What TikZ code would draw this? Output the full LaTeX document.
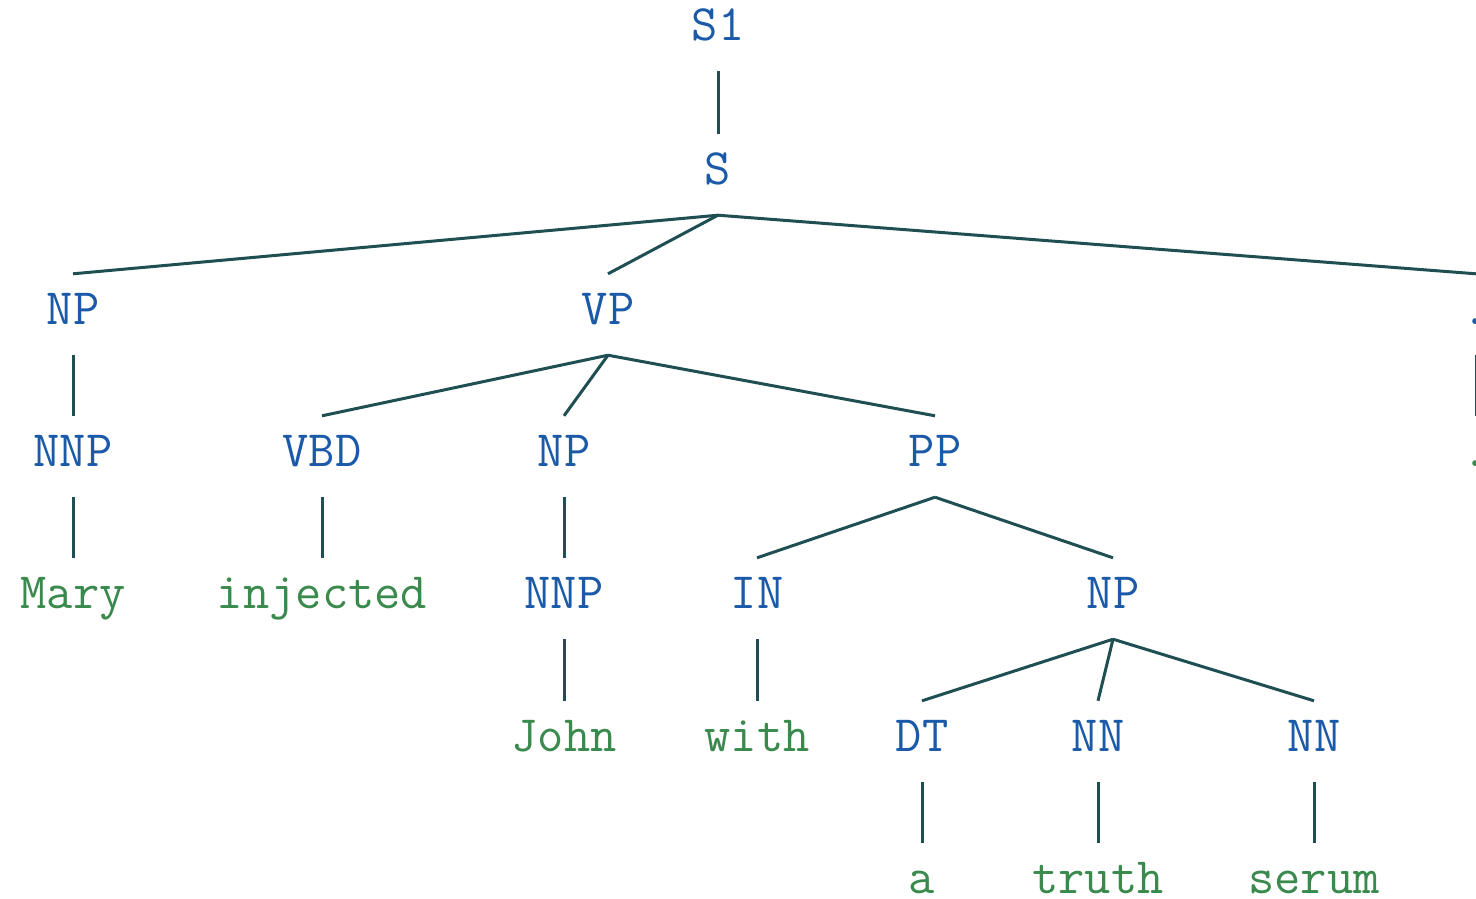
\documentclass[tikz,border=0pt]{standalone}
\usepackage{fontspec}
\definecolor{tagblue}{HTML}{1A5AA8}
\definecolor{wordgreen}{HTML}{3A8A4E}
\definecolor{edgeteal}{HTML}{1F4F52}
\begin{document}
\begin{tikzpicture}[x=1pt,y=-1pt,
  lbl/.style={anchor=base, font=\ttfamily\fontsize{51}{56}\selectfont,
    text height=28pt, text depth=9pt, inner ysep=22pt, inner xsep=0pt},
  tag/.style={lbl, text=tagblue},
  word/.style={lbl, text=wordgreen},
  edge/.style={draw=edgeteal, line width=3pt}]
\useasboundingbox (0,0) rectangle (1476,898);
% level 1--2
\node[tag] (s1) at (718,40) {S1};
\node[tag] (s) at (718,184) {S};
% level 3
\node[tag] (np1) at (73,324) {NP};
\node[tag] (vp) at (608,324) {VP};
\node[tag] (dottag) at (1476,324) {.};
% level 4
\node[tag] (nnp1) at (73,466) {NNP};
\node[tag] (vbd) at (322,466) {VBD};
\node[tag] (np2) at (564,466) {NP};
\node[tag] (pp) at (935,466) {PP};
\node[word] (dotw) at (1476,466) {.};
% level 5
\node[word] (mary) at (73,608) {Mary};
\node[word] (injected) at (322,608) {injected};
\node[tag] (nnp2) at (564,608) {NNP};
\node[tag] (in) at (757,608) {IN};
\node[tag] (np3) at (1113,608) {NP};
% level 6
\node[word] (john) at (564,751) {John};
\node[word] (with) at (757,751) {with};
\node[tag] (dt) at (922,751) {DT};
\node[tag] (nn1) at (1098,751) {NN};
\node[tag] (nn2) at (1314,751) {NN};
% level 7
\node[word] (a) at (922,893) {a};
\node[word] (truth) at (1098,893) {truth};
\node[word] (serum) at (1314,893) {serum};
% branches
\draw[edge] (s1.south) -- (s.north);
\draw[edge] (s.south) -- (np1.north);
\draw[edge] (s.south) -- (vp.north);
\draw[edge] (s.south) -- (dottag.north);
\draw[edge] (np1.south) -- (nnp1.north);
\draw[edge] (vp.south) -- (vbd.north);
\draw[edge] (vp.south) -- (np2.north);
\draw[edge] (vp.south) -- (pp.north);
\draw[edge] (dottag.south) -- (dotw.north);
\draw[edge] (nnp1.south) -- (mary.north);
\draw[edge] (vbd.south) -- (injected.north);
\draw[edge] (np2.south) -- (nnp2.north);
\draw[edge] (pp.south) -- (in.north);
\draw[edge] (pp.south) -- (np3.north);
\draw[edge] (nnp2.south) -- (john.north);
\draw[edge] (in.south) -- (with.north);
\draw[edge] (np3.south) -- (dt.north);
\draw[edge] (np3.south) -- (nn1.north);
\draw[edge] (np3.south) -- (nn2.north);
\draw[edge] (dt.south) -- (a.north);
\draw[edge] (nn1.south) -- (truth.north);
\draw[edge] (nn2.south) -- (serum.north);
\end{tikzpicture}
\end{document}
